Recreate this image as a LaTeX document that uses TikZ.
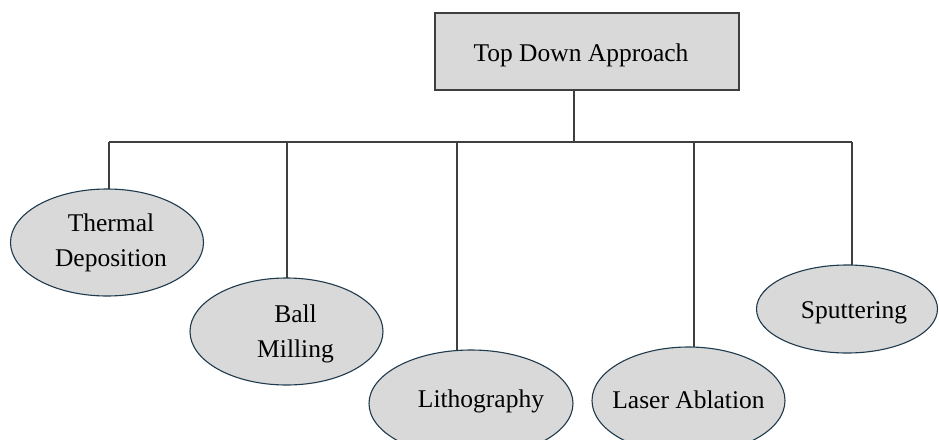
\documentclass[tikz,border=0pt]{standalone}
\usepackage{fontspec}
\setmainfont{Liberation Serif}
\usetikzlibrary{backgrounds,calc,shapes.geometric}
\definecolor{fillgray}{HTML}{D9D9D9}
\definecolor{linegray}{HTML}{3F3F3F}
\definecolor{ellborder}{HTML}{1F3A4D}
\tikzset{
  topbox/.style={draw=linegray, line width=1.3pt, fill=fillgray, minimum width=304pt, minimum height=77pt, inner sep=0pt},
  leaf/.style={ellipse, draw=ellborder, line width=1.1pt, fill=fillgray, minimum width=193pt, minimum height=107pt, inner sep=0pt},
  lbl/.style={font=\fontsize{25.5pt}{35pt}\selectfont, align=center, inner sep=0pt},
  conn/.style={draw=linegray, line width=1.1pt}
}
\begin{document}
\begin{tikzpicture}[x=1pt,y=-1pt]
\useasboundingbox (0,0) rectangle (939,439);
\node[topbox] (top) at (587,51.5) {};
\node[lbl] (toptext) at ($(top)+(-6,4)$) {Top Down Approach};
\node[leaf] (thermal) at (107,242.5) {};
\node[lbl] (thermaltext) at ($(thermal)+(4,0)$) {Thermal\\Deposition};
\node[leaf] (ball) at (286.5,331.5) {};
\node[lbl] (balltext) at ($(ball)+(9,2)$) {Ball\\Milling};
\node[leaf, minimum width=204pt] (litho) at (471,403.5) {};
\node[lbl] (lithotext) at ($(litho)+(10,-2)$) {Lithography};
\node[leaf] (laser) at (688.5,400.5) {};
\node[lbl] (lasertext) at ($(laser)+(0,-1)$) {Laser Ablation};
\node[leaf, minimum width=181pt, minimum height=88pt] (sputter) at (847,309) {};
\node[lbl] (sputtertext) at ($(sputter)+(7,4)$) {Sputtering};
\coordinate (j) at (574,142);
\coordinate (d1) at (109,142);
\coordinate (d2) at (287,142);
\coordinate (d3) at (457,142);
\coordinate (d4) at (694,142);
\coordinate (d5) at (852,142);
\begin{pgfonlayer}{background}
\draw[conn] (j |- top.south) -- (j);
\draw[conn] (d1) -- (d5);
\draw[conn] (d1) -- (d1 |- thermal.center);
\draw[conn] (d2) -- (d2 |- ball.center);
\draw[conn] (d3) -- (d3 |- litho.center);
\draw[conn] (d4) -- (d4 |- laser.center);
\draw[conn] (d5) -- (d5 |- sputter.center);
\end{pgfonlayer}
\end{tikzpicture}
\end{document}
